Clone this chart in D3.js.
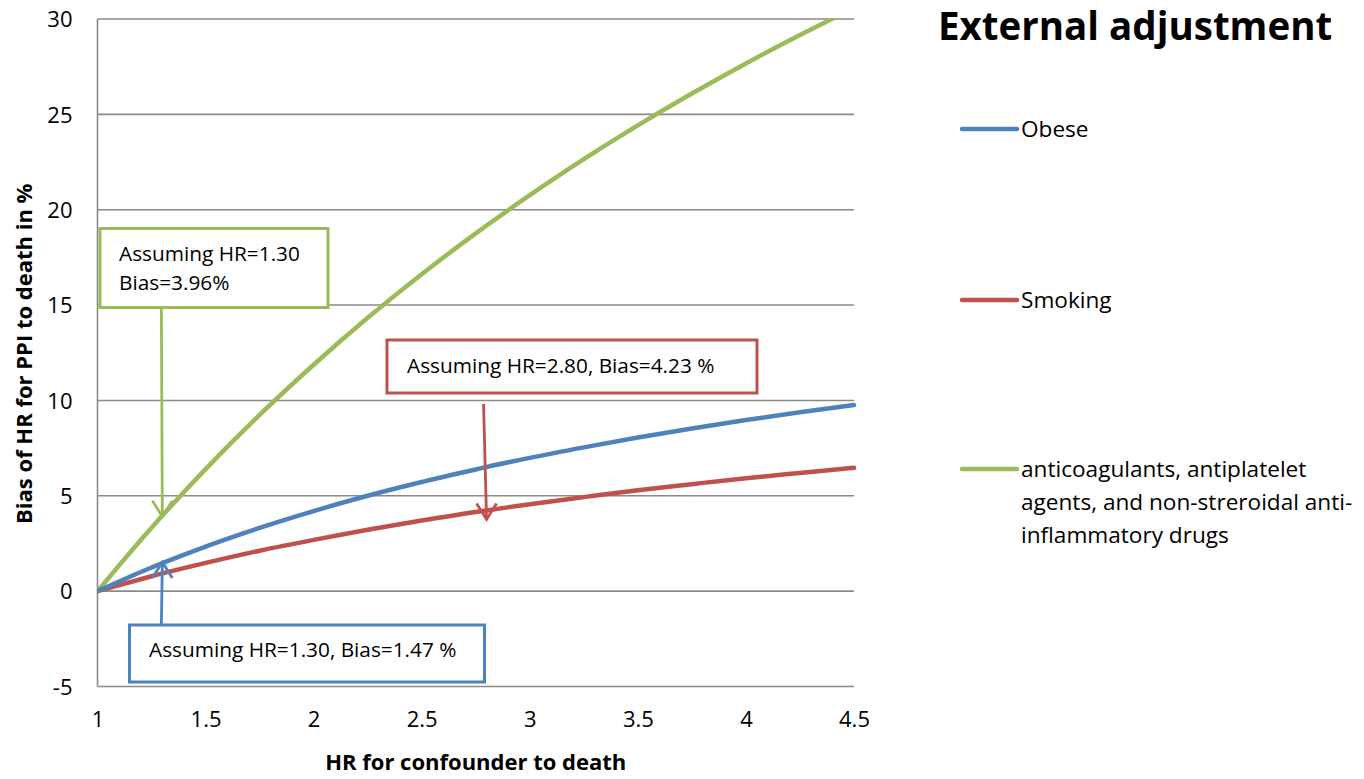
<!DOCTYPE html>
<html>
<head>
<meta charset="utf-8">
<script src="https://cdn.jsdelivr.net/npm/d3@7"></script>
<style>
  html, body { margin: 0; padding: 0; background: #ffffff; }
  svg { display: block; font-family: "Open Sans", "Noto Sans", sans-serif; }
</style>
</head>
<body>
<svg id="chart" width="1364" height="779"></svg>
<script>
// HR for confounder to death (x values)
const hrValues = [1, 1.25, 1.3, 1.5, 1.75, 2, 2.25, 2.5, 2.75, 2.8, 3, 3.25, 3.5, 3.75, 4, 4.25, 4.5];

// Bias of HR for PPI to death, in %
const obeseBias    = [0, 1.24, 1.47, 2.34, 3.32, 4.20, 5.00, 5.72, 6.38, 6.51, 6.99, 7.54, 8.06, 8.53, 8.97, 9.38, 9.76];
const smokingBias  = [0, 0.78, 0.93, 1.48, 2.12, 2.69, 3.22, 3.70, 4.15, 4.23, 4.56, 4.93, 5.29, 5.61, 5.92, 6.20, 6.47];
const drugsBias    = [0, 3.33, 3.96, 6.40, 9.24, 11.87, 14.33, 16.62, 18.76, 19.17, 20.76, 22.65, 24.42, 26.09, 27.67, 29.16, 30.57];

const seriesNames  = ["Obese", "Smoking", "anticoagulants, antiplatelet agents, and non-streroidal anti-inflammatory drugs"];
const legendLines  = [["Obese"], ["Smoking"], ["anticoagulants, antiplatelet", "agents, and non-streroidal anti-", "inflammatory drugs"]];
const seriesColors = ["#4F81BD", "#C0504D", "#9BBB59"];

const xTicks = [1, 1.5, 2, 2.5, 3, 3.5, 4, 4.5];
const yTicks = [-5, 0, 5, 10, 15, 20, 25, 30];

// Callouts: which series, the HR pointed at, and the stated bias
const calloutSeries = [2, 1, 0];
const calloutHR     = [1.30, 2.80, 1.30];
const calloutBias   = [3.96, 4.23, 1.47];
const calloutText   = [["Assuming HR=1.30", "Bias=3.96%"], ["Assuming HR=2.80, Bias=4.23 %"], ["Assuming HR=1.30, Bias=1.47 %"]];

const title = "External adjustment";
const xTitle = "HR for confounder to death";
const yTitle = "Bias of HR for PPI to death in %";

const svg = d3.select("#chart");
const plot = { left: 97.5, right: 854, top: 19, bottom: 686.5 };

const x = d3.scaleLinear().domain([1, 4.5]).range([plot.left, plot.right]);
const y = d3.scaleLinear().domain([-5, 30]).range([plot.bottom, plot.top]);

const gridColor = "#8a8a8a";

// Horizontal gridlines
svg.append("g")
  .selectAll("line")
  .data(yTicks)
  .join("line")
  .attr("x1", plot.left).attr("x2", plot.right)
  .attr("y1", d => y(d)).attr("y2", d => y(d))
  .attr("stroke", gridColor).attr("stroke-width", 1.6);

// Vertical axis line
svg.append("line")
  .attr("x1", plot.left).attr("x2", plot.left)
  .attr("y1", plot.top).attr("y2", plot.bottom)
  .attr("stroke", gridColor).attr("stroke-width", 1.6);

// Y tick labels (plain hyphen for negatives)
const yAxis = d3.axisLeft(y).tickValues(yTicks).tickSize(0).tickPadding(0).tickFormat(d => String(d));
const gy = svg.append("g").attr("transform", `translate(${plot.left - 25},0)`).call(yAxis);
gy.select(".domain").remove();
gy.selectAll("text").attr("font-size", 22).attr("fill", "#000").attr("font-family", "Open Sans, sans-serif")
  .attr("dy", "0.35em");

// X tick labels
const xAxis = d3.axisBottom(x).tickValues(xTicks).tickSize(0).tickPadding(0).tickFormat(d => String(d));
const gx = svg.append("g").attr("transform", `translate(0,${plot.bottom + 27})`).call(xAxis);
gx.select(".domain").remove();
gx.selectAll("text").attr("font-size", 22).attr("fill", "#000").attr("font-family", "Open Sans, sans-serif")
  .attr("dy", "0.6em");

// Axis titles
svg.append("text")
  .attr("x", (plot.left + plot.right) / 2).attr("y", 770)
  .attr("text-anchor", "middle").attr("font-size", 22).attr("font-weight", "bold")
  .text(xTitle);

svg.append("text")
  .attr("transform", `translate(32,${(plot.top + plot.bottom) / 2 + 1}) rotate(-90)`)
  .attr("text-anchor", "middle").attr("font-size", 22).attr("font-weight", "bold")
  .text(yTitle);

// Series lines, clipped to the plot area
svg.append("clipPath").attr("id", "plotClip")
  .append("rect")
  .attr("x", plot.left).attr("y", plot.top - 1)
  .attr("width", plot.right - plot.left + 4).attr("height", plot.bottom - plot.top + 1);

const seriesData = [obeseBias, smokingBias, drugsBias];
const line = d3.line()
  .x((d, i) => x(hrValues[i]))
  .y(d => y(d))
  .curve(d3.curveMonotoneX);

// draw green first, then red and blue on top
const drawOrder = [2, 1, 0];
svg.append("g").attr("clip-path", "url(#plotClip)")
  .selectAll("path")
  .data(drawOrder)
  .join("path")
  .attr("d", k => line(seriesData[k]))
  .attr("fill", "none")
  .attr("stroke", k => seriesColors[k])
  .attr("stroke-width", 4.5)
  .attr("stroke-linecap", "round")
  .attr("stroke-linejoin", "round");

// Callout boxes and arrows
const boxes = [
  { x: 100, y: 228.5, w: 228, h: 79, tx: 119, ty: [261, 290], from: "below" },
  { x: 387, y: 340, w: 370, h: 53, tx: 407, ty: [373], from: "below" },
  { x: 129.5, y: 625, w: 355, h: 57, tx: 149, ty: [657], from: "above" }
];
const tipOvershoot = [1, 9, -1];
const shaftShift = [-1, -3, -1];

boxes.forEach((b, i) => {
  const color = seriesColors[calloutSeries[i]];
  const g = svg.append("g");
  g.append("rect")
    .attr("x", b.x).attr("y", b.y).attr("width", b.w).attr("height", b.h)
    .attr("fill", "#fff").attr("stroke", color).attr("stroke-width", 3);
  calloutText[i].forEach((t, j) => {
    g.append("text").attr("x", b.tx).attr("y", b.ty[j])
      .attr("font-size", 20.8).attr("fill", "#000").text(t);
  });

  const tipX = x(calloutHR[i]);
  const tipY = y(calloutBias[i]) + tipOvershoot[i];
  const startX = tipX + shaftShift[i];
  let startY;
  if (b.from === "below") startY = i === 1 ? b.y + b.h + 11 : b.y + b.h;
  else startY = b.y;
  const dir = b.from === "below" ? -1 : 1; // wings point back toward the box
  g.append("path")
    .attr("d", `M${startX},${startY} L${tipX},${tipY}`)
    .attr("stroke", color).attr("stroke-width", 2.8).attr("fill", "none");
  g.append("path")
    .attr("d", `M${tipX - 10},${tipY + dir * 16} L${tipX},${tipY} L${tipX + 10},${tipY + dir * 16}`)
    .attr("stroke", color).attr("stroke-width", 2.8).attr("fill", "none")
    .attr("stroke-linejoin", "miter");
});

// Title
svg.append("text")
  .attr("x", 938).attr("y", 40)
  .attr("font-size", 38.5).attr("font-weight", "bold")
  .text(title);

// Legend
const legendY = [129, 300, 469];
const legend = svg.append("g")
  .selectAll("g")
  .data(seriesNames)
  .join("g")
  .attr("transform", (d, i) => `translate(962,${legendY[i]})`);
legend.append("line")
  .attr("x1", 0).attr("x2", 55).attr("y1", 0).attr("y2", 0)
  .attr("stroke", (d, i) => seriesColors[i]).attr("stroke-width", 4.5)
  .attr("stroke-linecap", "round");
legend.each(function(d, i) {
  const t = d3.select(this).append("text")
    .attr("x", 59).attr("y", 0).attr("font-size", 22.6).attr("fill", "#000");
  legendLines[i].forEach((ln, j) => {
    t.append("tspan").attr("x", 59).attr("y", j * 33).attr("dy", "0.35em").text(ln);
  });
});
</script>
</body>
</html>
